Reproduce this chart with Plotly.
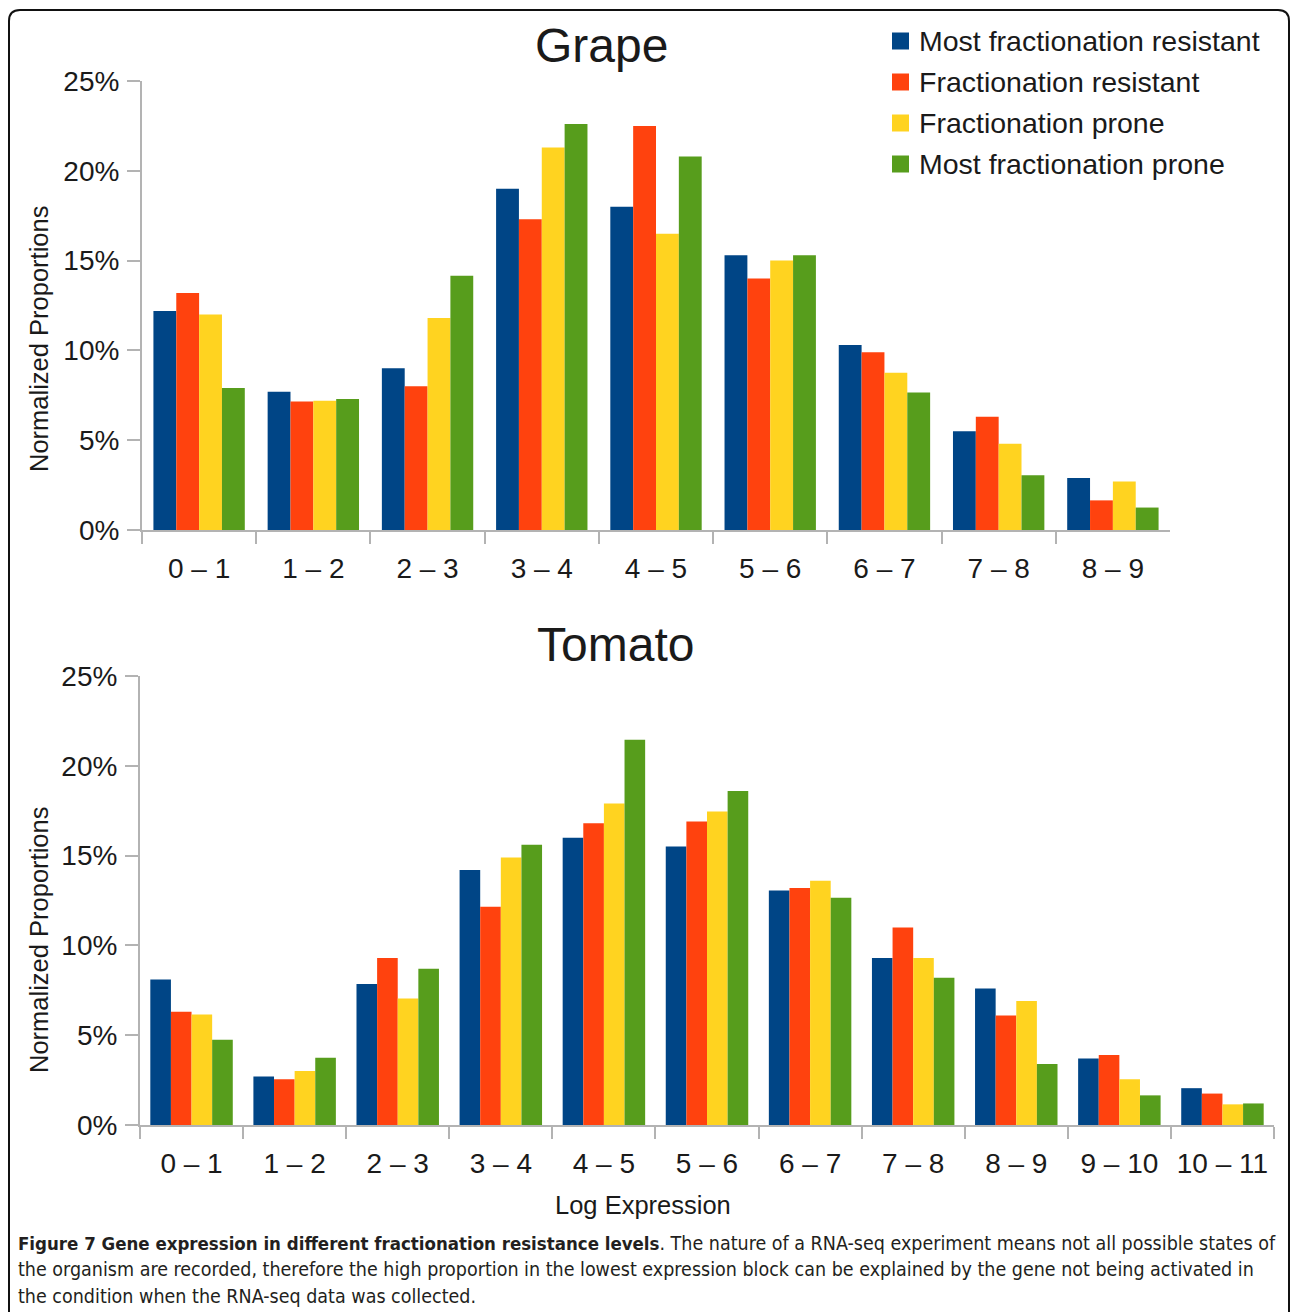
import plotly.graph_objects as go

# Expression bins (log scale) for each organism
grape_bins = ["0 – 1", "1 – 2", "2 – 3", "3 – 4", "4 – 5", "5 – 6", "6 – 7", "7 – 8", "8 – 9"]
tomato_bins = ["0 – 1", "1 – 2", "2 – 3", "3 – 4", "4 – 5", "5 – 6", "6 – 7", "7 – 8", "8 – 9", "9 – 10", "10 – 11"]

series_names = [
    "Most fractionation resistant",
    "Fractionation resistant",
    "Fractionation prone",
    "Most fractionation prone",
]
series_colors = ["#004586", "#ff420e", "#ffd320", "#579d1c"]

# Normalized proportions (%) per bin
grape_most_resistant = [12.2, 7.7, 9.0, 19.0, 18.0, 15.3, 10.3, 5.5, 2.9]
grape_resistant = [13.2, 7.15, 8.0, 17.3, 22.5, 14.0, 9.9, 6.3, 1.65]
grape_prone = [12.0, 7.2, 11.8, 21.3, 16.5, 15.0, 8.75, 4.8, 2.7]
grape_most_prone = [7.9, 7.3, 14.15, 22.6, 20.8, 15.3, 7.65, 3.05, 1.25]

tomato_most_resistant = [8.1, 2.7, 7.85, 14.2, 16.0, 15.5, 13.05, 9.3, 7.6, 3.7, 2.05]
tomato_resistant = [6.3, 2.55, 9.3, 12.15, 16.8, 16.9, 13.2, 11.0, 6.1, 3.9, 1.75]
tomato_prone = [6.15, 3.0, 7.05, 14.9, 17.9, 17.45, 13.6, 9.3, 6.9, 2.55, 1.15]
tomato_most_prone = [4.75, 3.75, 8.7, 15.6, 21.45, 18.6, 12.65, 8.2, 3.4, 1.65, 1.2]

grape_series = [grape_most_resistant, grape_resistant, grape_prone, grape_most_prone]
tomato_series = [tomato_most_resistant, tomato_resistant, tomato_prone, tomato_most_prone]

W, H = 1290, 1312
FONT = "Liberation Sans, Arial, sans-serif"
TEXT = "#1a1a1a"
AXIS = "#b3b3b3"


def px(x):
    return x / W


def py(y):
    return 1 - y / H


fig = go.Figure()

for vals, name, color in zip(grape_series, series_names, series_colors):
    fig.add_trace(go.Bar(x=grape_bins, y=vals, name=name, marker_color=color,
                         marker_line_width=0, xaxis="x", yaxis="y", showlegend=False))
for vals, name, color in zip(tomato_series, series_names, series_colors):
    fig.add_trace(go.Bar(x=tomato_bins, y=vals, name=name, marker_color=color,
                         marker_line_width=0, xaxis="x2", yaxis="y2", showlegend=False))

xaxis_common = dict(
    type="category", showgrid=False, showline=True, linecolor=AXIS, linewidth=2,
    ticks="outside", tickson="boundaries", ticklen=12, tickwidth=2, tickcolor=AXIS,
    ticklabelstandoff=12,
    tickfont=dict(family=FONT, size=28, color=TEXT), fixedrange=True, automargin=False,
)
yaxis_common = dict(
    range=[0, 25], tickmode="linear", tick0=0, dtick=5, ticksuffix="%",
    showgrid=False, zeroline=False, showline=True, linecolor=AXIS, linewidth=2,
    ticks="outside", ticklen=13, tickwidth=2, tickcolor=AXIS, ticklabelstandoff=2,
    tickfont=dict(family=FONT, size=28, color=TEXT), fixedrange=True, automargin=False,
)

fig.update_layout(
    width=W, height=H,
    margin=dict(l=0, r=0, t=0, b=0, pad=0, autoexpand=False),
    paper_bgcolor="white", plot_bgcolor="white",
    barmode="group", bargap=0.2, bargroupgap=0,
    showlegend=False,
    xaxis=dict(domain=[px(142), px(1170)], anchor="y", **xaxis_common),
    yaxis=dict(domain=[py(530), py(81)], anchor="x", **yaxis_common),
    xaxis2=dict(domain=[px(140), px(1274)], anchor="y2", **xaxis_common),
    yaxis2=dict(domain=[py(1125), py(676)], anchor="x2", **yaxis_common),
)


def label(text, x, y, size, **kw):
    d = dict(text=text, x=px(x), y=py(y), xref="paper", yref="paper", showarrow=False,
             xanchor="center", yanchor="middle",
             font=dict(family=kw.pop("family", FONT), size=size, color=kw.pop("color", TEXT)))
    d.update(kw)
    return d


annotations = []
# Panel titles
annotations.append(label("Grape", 601, 45, 48))
annotations.append(label("Tomato", 615, 644, 48))
# Axis titles
for yc in (339, 940):
    annotations.append(label("Normalized Proportions", 39, yc, 25.5, textangle=-90))
annotations.append(label("Log Expression", 643, 1205, 25.5))

# Legend drawn as swatches + labels
shapes = []
for i, (name, color) in enumerate(zip(series_names, series_colors)):
    yc = 41 + 41 * i
    shapes.append(dict(type="rect", xref="paper", yref="paper", x0=px(892), x1=px(909),
                       y0=py(yc + 8.5), y1=py(yc - 8.5), fillcolor=color, line_width=0))
    annotations.append(label(name, 917, yc, 28.5, xanchor="left"))

# Caption under the figure
CAP = "Liberation Sans Narrow, DejaVu Sans Condensed, Arial Narrow, sans-serif"
caption_lines = [
    "<span style='font-size:18.5px'><b>Figure 7 Gene expression in different fractionation "
    "resistance levels</b></span>. "
    "The nature of a RNA-seq experiment means not all possible states of",
    "the organism are recorded, therefore the high proportion in the lowest expression "
    "block can be explained by the gene not being activated in",
    "the condition when the RNA-seq data was collected.",
]
for i, line in enumerate(caption_lines):
    annotations.append(label(line, 16, 1243 + 26.5 * i, 19.5, family=CAP, color="#231f20",
                             xanchor="left"))

# Rounded frame around the figure
x0, y0, x1, y1, r = 9, 10, 1289, 1330, 11
frame = (f"M {px(x0)},{py(y1)} L {px(x0)},{py(y0 + r)} "
         f"Q {px(x0)},{py(y0)} {px(x0 + r)},{py(y0)} "
         f"L {px(x1 - r)},{py(y0)} Q {px(x1)},{py(y0)} {px(x1)},{py(y0 + r)} "
         f"L {px(x1)},{py(y1)}")
shapes.append(dict(type="path", xref="paper", yref="paper", path=frame,
                   line=dict(color="#111111", width=2)))

fig.update_layout(annotations=annotations, shapes=shapes)

fig.write_html("out.html")
